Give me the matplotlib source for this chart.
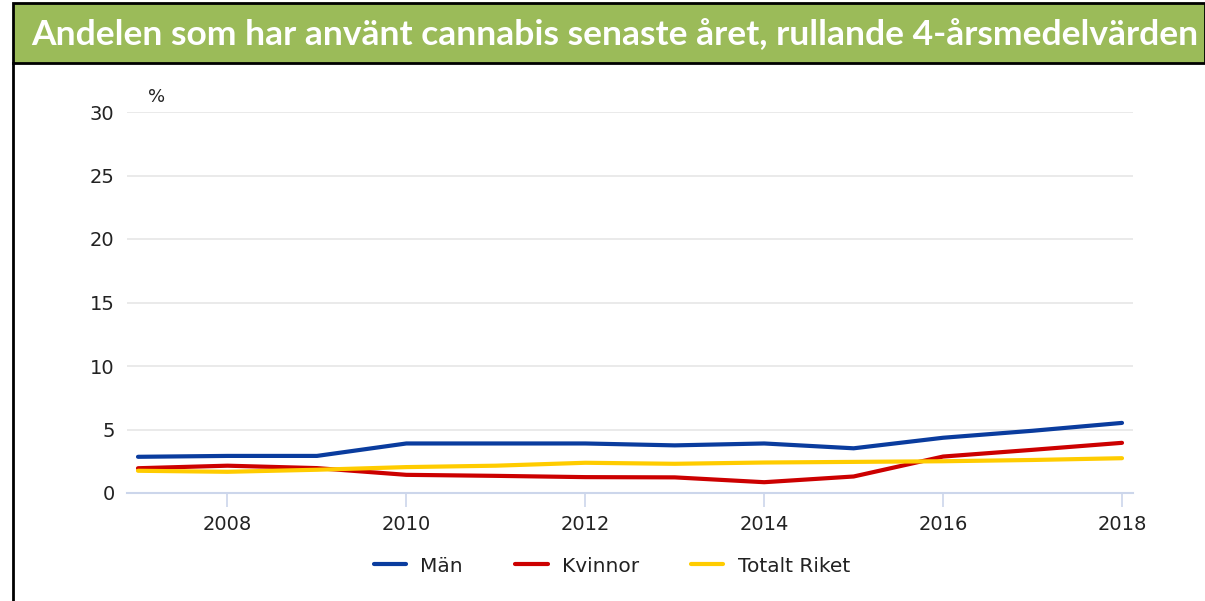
import matplotlib.pyplot as plt
from matplotlib.patches import Rectangle
from matplotlib.lines import Line2D

# Data
years = [2007, 2008, 2009, 2010, 2011, 2012, 2013, 2014, 2015, 2016, 2017, 2018]
man = [2.85, 2.92, 2.92, 3.9, 3.9, 3.9, 3.75, 3.9, 3.52, 4.35, 4.9, 5.52]
kvinnor = [1.95, 2.15, 1.96, 1.43, 1.35, 1.25, 1.23, 0.85, 1.3, 2.87, 3.4, 3.95]
totalt = [1.75, 1.67, 1.83, 2.04, 2.15, 2.38, 2.3, 2.4, 2.45, 2.5, 2.6, 2.74]

series_names = ['Män', 'Kvinnor', 'Totalt Riket']
series_colors = ['#0a3c9e', '#cc0000', '#ffcc00']
title = 'Andelen som har använt cannabis senaste året, rullande 4-årsmedelvärden'
x_ticks = [2008, 2010, 2012, 2014, 2016, 2018]
y_ticks = [0, 5, 10, 15, 20, 25, 30]

W, H = 1205, 601
fig = plt.figure(figsize=(W / 100, H / 100), dpi=100)

# frame + green title bar
fig.add_artist(Rectangle((13 / W, 1 - 63 / H), 1 - 13 / W, 60 / H, transform=fig.transFigure,
                         facecolor='#9bbb59', edgecolor='black', linewidth=2))
fig.add_artist(Line2D([13 / W, 13 / W], [0, 1 - 63 / H], transform=fig.transFigure,
                      color='black', linewidth=2))
fig.text(615 / W, 1 - 35 / H, title, color='white', fontsize=25.5, fontweight='bold',
         family='Lato', ha='center', va='center')

ax = fig.add_axes([127 / W, 1 - 493 / H, (1133 - 127) / W, (493 - 112) / H])

for vals, name, col in zip([man, kvinnor, totalt], series_names, series_colors):
    ax.plot(years, vals, color=col, linewidth=3, label=name, solid_capstyle='round', zorder=3)

ax.set_xlim(2006.877, 2018.123)
ax.set_ylim(0, 30)
ax.set_xticks(x_ticks)
ax.set_yticks(y_ticks)
ax.grid(axis='y', color='#e6e6e6', linewidth=1.2)
ax.set_axisbelow(True)
for s in ['top', 'right', 'left']:
    ax.spines[s].set_visible(False)
ax.spines['bottom'].set_color('#ccd6eb')
ax.spines['bottom'].set_linewidth(1.5)
ax.tick_params(axis='x', length=10, width=1.2, color='#ccd6eb', labelsize=14, pad=6, labelcolor='#222222')
ax.tick_params(axis='y', length=0, labelsize=14, pad=9, labelcolor='#222222')

ax.text(157 / W, 1 - 97 / H, '%', transform=fig.transFigure, fontsize=13, color='#222222',
        ha='center', va='center')

leg = fig.legend(loc='center', bbox_to_anchor=(612 / W, 1 - 566 / H), ncol=3, frameon=False,
                 fontsize=14.5, handlelength=1.6, columnspacing=2.6, handletextpad=0.7)
for t in leg.get_texts():
    t.set_color('#222222')

fig.savefig('out.png', dpi=100)
